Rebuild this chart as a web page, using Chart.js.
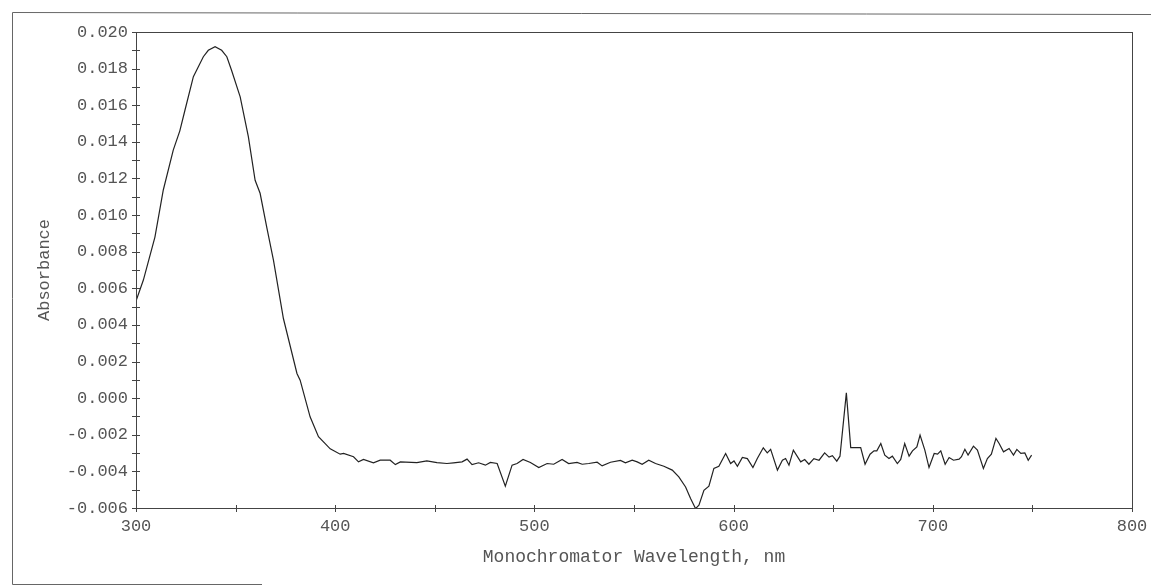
<!DOCTYPE html>
<html>
<head>
<meta charset="utf-8">
<script src="https://cdn.jsdelivr.net/npm/chart.js@4/dist/chart.umd.min.js"></script>
<style>
  html, body { margin: 0; padding: 0; background: #fff; }
  #spectrumChart { display: block; }
</style>
</head>
<body>
<canvas id="spectrumChart" width="1151" height="586"></canvas>
<script>
// Wavelengths (nm)
const wavelengths = [
    300, 303.7, 309.5, 313.7, 318.7, 322, 324.6, 328.8, 333.8, 336.3,
    339.7, 343, 345.6, 348, 352.3, 356.4, 359.8, 362.3, 365.7, 369,
    374, 380.8, 382.4, 387.4, 391.6, 397.5, 402.5, 404.2, 409.2, 411.7,
    414.2, 419.2, 422.6, 427.6, 430.2, 432.7, 441, 446, 451.1, 456.1,
    459.4, 463.7, 466.2, 468.7, 472, 475.4, 477.9, 481.3, 485.4, 488.8,
    491.3, 494.3, 498, 502.2, 506.4, 509.7, 513.9, 517.2, 521.4, 524,
    527.3, 531.5, 534, 538.2, 543.2, 545.7, 549.1, 551.6, 554.1, 557.4,
    560.8, 565, 569.2, 572.5, 575.9, 578.4, 580.9, 582.6, 585.1, 587.6,
    590.1, 592.6, 596, 598.5, 600.2, 601.9, 604.4, 606.9, 609.7, 611.9,
    614.9, 616.9, 618.6, 622, 624.5, 626.1, 627.8, 630, 633.7, 635.7,
    637.8, 640.3, 642.9, 645.7, 647.9, 649.6, 651.8, 653.4, 656.6, 658.8,
    663.8, 666, 668.5, 670.5, 671.9, 673.9, 675.9, 678, 679.7, 682.2,
    683.9, 685.9, 688.1, 689.8, 692, 693.6, 696, 698.1, 700.7, 702.4,
    704, 706.2, 708.2, 710.4, 713.2, 714.4, 716.1, 717.7, 720.4, 722.4,
    725.4, 727.4, 729.4, 731.7, 733.3, 735.5, 738.3, 740.5, 742.2, 744.2,
    746.2, 747.9, 749.6
];

// Absorbance at each wavelength
const absorbance = [
    0.00530, 0.00645, 0.00880, 0.01137, 0.01355, 0.01460, 0.01574, 0.01756, 0.01865, 0.01900,
    0.01920, 0.01900, 0.01865, 0.01790, 0.01646, 0.01428, 0.01190, 0.01119, 0.00930, 0.00754,
    0.00435, 0.00135, 0.00098, -0.00102, -0.00211, -0.00277, -0.00306, -0.00302, -0.00320, -0.00348,
    -0.00335, -0.00353, -0.00339, -0.00339, -0.00363, -0.00348, -0.00352, -0.00343, -0.00352, -0.00357,
    -0.00353, -0.00348, -0.00333, -0.00363, -0.00353, -0.00366, -0.00351, -0.00357, -0.00481, -0.00366,
    -0.00357, -0.00335, -0.00351, -0.00379, -0.00357, -0.00361, -0.00335, -0.00357, -0.00351, -0.00361,
    -0.00357, -0.00350, -0.00370, -0.00350, -0.00340, -0.00353, -0.00339, -0.00348, -0.00361, -0.00339,
    -0.00357, -0.00372, -0.00393, -0.00430, -0.00485, -0.00548, -0.00603, -0.00585, -0.00503, -0.00481,
    -0.00384, -0.00372, -0.00302, -0.00357, -0.00343, -0.00372, -0.00324, -0.00330, -0.00379, -0.00330,
    -0.00271, -0.00299, -0.00280, -0.00393, -0.00339, -0.00330, -0.00366, -0.00284, -0.00348, -0.00335,
    -0.00361, -0.00330, -0.00339, -0.00299, -0.00322, -0.00314, -0.00344, -0.00317, 0.00029, -0.00270,
    -0.00270, -0.00361, -0.00306, -0.00288, -0.00288, -0.00248, -0.00311, -0.00330, -0.00317, -0.00357,
    -0.00335, -0.00248, -0.00317, -0.00288, -0.00266, -0.00202, -0.00284, -0.00379, -0.00302, -0.00306,
    -0.00288, -0.00361, -0.00324, -0.00339, -0.00333, -0.00320, -0.00279, -0.00311, -0.00262, -0.00284,
    -0.00384, -0.00330, -0.00306, -0.00220, -0.00248, -0.00293, -0.00275, -0.00311, -0.00280, -0.00302,
    -0.00299, -0.00339, -0.00311
];

// Axis settings
const xMin = 300, xMax = 800, xStep = 100, xMinorStep = 50;
const yMin = -0.006, yMax = 0.020, yStep = 0.002, yMinorStep = 0.001;

const xTitle = 'Monochromator Wavelength, nm';
const yTitle = 'Absorbance';

const fontFamily = '"Liberation Mono", "DejaVu Sans Mono", monospace';
const textColor = '#555';
const axisColor = '#444';

// Ram runt plottytan, små tickmarkeringar tvärs över axlarna och ytterram
const framePlugin = {
    id: 'frame',
    afterDraw(chart) {
        const { ctx, chartArea: a, scales } = chart;
        ctx.save();
        ctx.strokeStyle = axisColor;
        ctx.lineWidth = 1;
        ctx.strokeRect(a.left + 0.5, a.top + 0.5, a.right - a.left, a.bottom - a.top);

        // tick marks crossing the axes
        ctx.beginPath();
        for (let v = xMin; v <= xMax + 1e-9; v += xMinorStep) {
            const px = Math.round(scales.x.getPixelForValue(v)) + 0.5;
            ctx.moveTo(px, a.bottom - 3);
            ctx.lineTo(px, a.bottom + 4);
        }
        const n = Math.round((yMax - yMin) / yMinorStep);
        for (let i = 0; i <= n; i++) {
            const v = yMin + i * yMinorStep;
            const py = Math.round(scales.y.getPixelForValue(v)) + 0.5;
            ctx.moveTo(a.left - 4, py);
            ctx.lineTo(a.left + 4, py);
        }
        ctx.stroke();

        // outer frame of the scanned page
        ctx.strokeStyle = '#666';
        ctx.beginPath();
        ctx.moveTo(1151, 14.5);
        ctx.lineTo(12.5, 12.5);
        ctx.lineTo(12.5, 584.5);
        ctx.lineTo(262, 584.5);
        ctx.stroke();
        ctx.restore();
    }
};

document.addEventListener('DOMContentLoaded', () => {
    const ctx = document.getElementById('spectrumChart').getContext('2d');
    const points = wavelengths.map((w, i) => ({ x: w, y: absorbance[i] }));

    new Chart(ctx, {
        type: 'line',
        data: {
            datasets: [{
                data: points,
                borderColor: '#222',
                borderWidth: 1.2,
                pointRadius: 0,
                tension: 0,
                fill: false
            }]
        },
        options: {
            responsive: false,
            animation: false,
            layout: { padding: { left: 0, right: 19, top: 32, bottom: 0 } },
            plugins: {
                legend: { display: false },
                tooltip: { enabled: false }
            },
            scales: {
                x: {
                    type: 'linear',
                    min: xMin,
                    max: xMax,
                    afterFit: scale => {
                        scale.height = 78;
                        scale.paddingLeft = 0;
                        scale.paddingRight = 0;
                    },
                    grid: { display: false, drawTicks: false },
                    border: { display: false },
                    ticks: {
                        stepSize: xStep,
                        padding: 8,
                        color: textColor,
                        font: { family: fontFamily, size: 17 },
                        maxRotation: 0
                    },
                    title: {
                        display: true,
                        text: xTitle,
                        color: textColor,
                        font: { family: fontFamily, size: 18 },
                        padding: { top: 0, bottom: 18 }
                    }
                },
                y: {
                    min: yMin,
                    max: yMax,
                    afterFit: scale => {
                        scale.width = 136;
                        scale.paddingTop = 0;
                        scale.paddingBottom = 0;
                    },
                    grid: { display: false, drawTicks: false },
                    border: { display: false },
                    ticks: {
                        stepSize: yStep,
                        padding: 8,
                        color: textColor,
                        font: { family: fontFamily, size: 17 },
                        callback: value => value.toFixed(3)
                    },
                    title: {
                        display: true,
                        text: yTitle,
                        color: textColor,
                        font: { family: fontFamily, size: 17 },
                        padding: { top: 34, bottom: 0 }
                    }
                }
            }
        },
        plugins: [framePlugin]
    });
});
</script>
</body>
</html>
